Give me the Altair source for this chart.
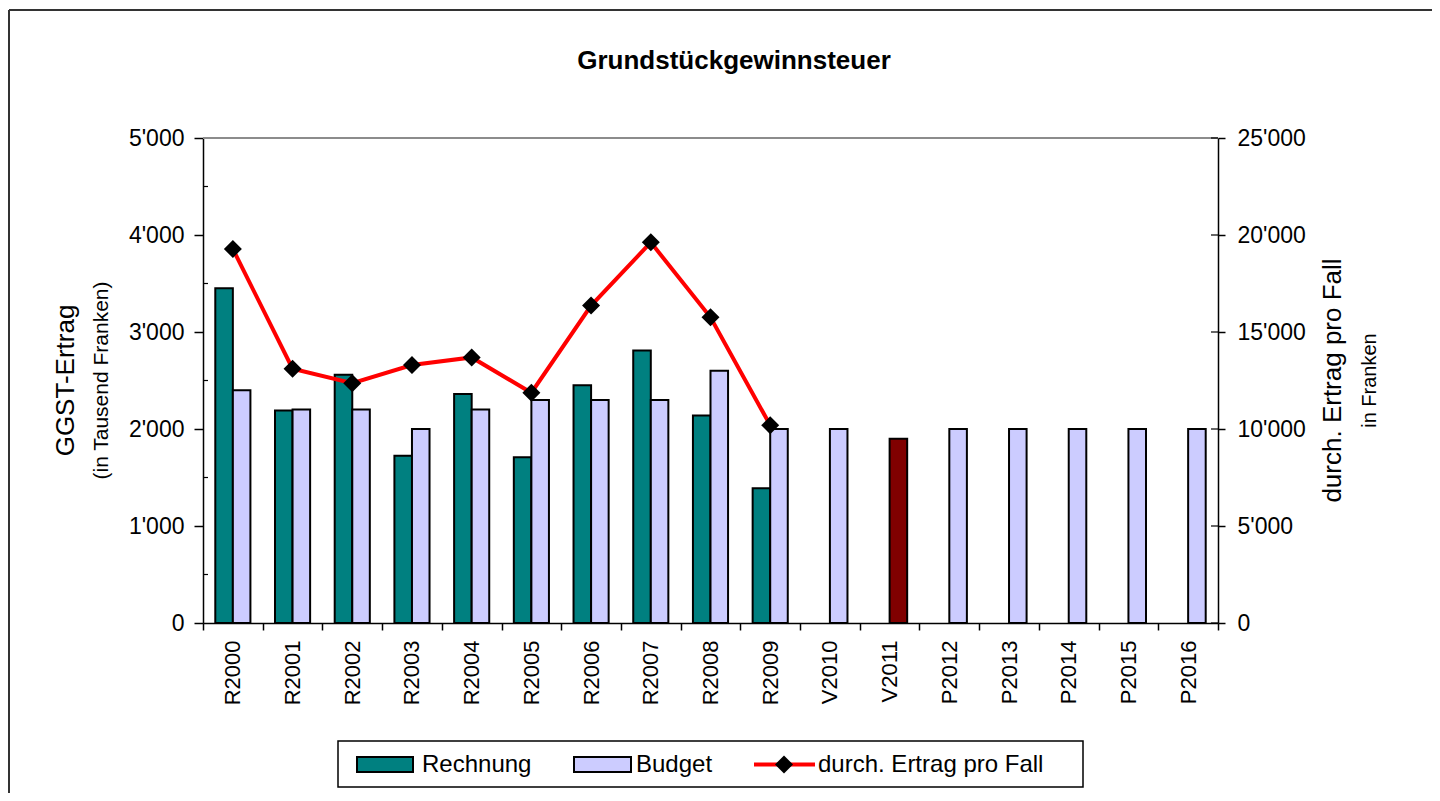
import altair as alt
import pandas as pd

# ---------------- data ----------------
categories = ["R2000", "R2001", "R2002", "R2003", "R2004", "R2005", "R2006",
              "R2007", "R2008", "R2009", "V2010", "V2011", "P2012", "P2013",
              "P2014", "P2015", "P2016"]
rechnung = [3450, 2190, 2560, 1725, 2360, 1710, 2450, 2810, 2140, 1390,
            None, None, None, None, None, None, None]
budget = [2400, 2200, 2200, 2000, 2200, 2300, 2300, 2300, 2600, 2000,
          2000, 1900, 2000, 2000, 2000, 2000, 2000]
ertrag_pro_fall = [19280, 13110, 12360, 13300, 13690, 11870, 16360, 19620,
                   15760, 10190]
hervorgehoben = ["V2011"]

left_ticks = [0, 1000, 2000, 3000, 4000, 5000]
left_minor = [500, 1500, 2500, 3500, 4500]
right_ticks = [0, 5000, 10000, 15000, 20000, 25000]

rows = []
for c, r, b in zip(categories, rechnung, budget):
    if r is not None:
        rows.append({"Jahr": c, "Serie": "Rechnung", "Wert": r, "Farbe": "Rechnung"})
    if b is not None:
        rows.append({"Jahr": c, "Serie": "Budget", "Wert": b,
                     "Farbe": "Hervorgehoben" if c in hervorgehoben else "Budget"})
bars_df = pd.DataFrame(rows)
line_df = pd.DataFrame({"Jahr": categories[:len(ertrag_pro_fall)],
                        "Ertrag": ertrag_pro_fall})
minor_df = pd.DataFrame({"v": left_minor})
rtick_df = pd.DataFrame({"v": right_ticks})
one = pd.DataFrame({"a": [0]})

FONT = "Liberation Sans"
W, H = 1015, 485
PAD = {"left": 195, "top": 130, "right": 214, "bottom": 170}

TEAL, LAV, DRED, RED = "#008080", "#CCCCFF", "#800000", "#FF0000"

fmt = "replace(format(datum.value, ','), ',', \"'\")"

x_scale = alt.Scale(domain=categories, paddingInner=0, paddingOuter=0)
x_axis = alt.Axis(title=None, labelAngle=270, labelFontSize=22, labelPadding=10,
                  tickBand="extent", tickSize=7, labelFont=FONT)
yl_scale = alt.Scale(domain=[0, 5000], nice=False)
yr_scale = alt.Scale(domain=[0, 25000], nice=False)
yl_axis = alt.Axis(title=None, values=left_ticks, labelExpr=fmt, tickSize=9,
                   labelPadding=10, orient="left")
yr_axis = alt.Axis(title=None, values=right_ticks, labelExpr=fmt, tickSize=7,
                   labelPadding=12, orient="right")

bars = alt.Chart(bars_df).mark_bar(stroke="black", strokeWidth=2).encode(
    x=alt.X("Jahr:N", scale=x_scale, axis=x_axis),
    xOffset=alt.XOffset("Serie:N", scale=alt.Scale(domain=["Rechnung", "Budget"],
                                                  paddingInner=0, paddingOuter=0.7)),
    y=alt.Y("Wert:Q", scale=yl_scale, axis=yl_axis),
    color=alt.Color("Farbe:N", scale=alt.Scale(domain=["Rechnung", "Budget", "Hervorgehoben"],
                                               range=[TEAL, LAV, DRED]), legend=None),
)

top_rule = alt.Chart(one).mark_rule(color="#8c8c8c", strokeWidth=2).encode(
    y=alt.YDatum(5000, scale=yl_scale, axis=yl_axis)
)
minor = alt.Chart(minor_df).mark_rule(color="black", strokeWidth=1.2).encode(
    y=alt.Y("v:Q", scale=yl_scale, axis=yl_axis), x=alt.value(0), x2=alt.value(5)
)

def txt(text, x, y, size, angle=0, weight="normal", align="center", baseline="alphabetic"):
    return alt.Chart(one).mark_text(
        text=text, font=FONT, fontSize=size, fontWeight=weight, angle=angle,
        align=align, baseline=baseline, color="black"
    ).encode(x=alt.value(x), y=alt.value(y))

frame_l = alt.Chart(one).mark_rule(color="#333333", strokeWidth=2).encode(
    x=alt.value(-194), y=alt.value(-128), y2=alt.value(H + PAD["bottom"]))
frame_t = alt.Chart(one).mark_rule(color="#333333", strokeWidth=2).encode(
    x=alt.value(-194), x2=alt.value(W + PAD["right"]), y=alt.value(-128))

title = txt("Grundstückgewinnsteuer", 531, -69, 26, weight="bold")
yl_t1 = txt("GGST-Ertrag", -129, H / 2, 26, angle=270)
yl_t2 = txt("(in Tausend Franken)", -95, H / 2, 21, angle=270)
yr_t1 = txt("durch. Ertrag pro Fall", 1138, H / 2, 26, angle=270)
yr_t2 = txt("in Franken", 1173, H / 2, 20, angle=270)

# legend
leg_box = alt.Chart(one).mark_rect(fill="white", stroke="black", strokeWidth=1.5).encode(
    x=alt.value(135), x2=alt.value(880), y=alt.value(603), y2=alt.value(649))
sw1 = alt.Chart(one).mark_rect(fill=TEAL, stroke="black", strokeWidth=2).encode(
    x=alt.value(154), x2=alt.value(210), y=alt.value(619), y2=alt.value(634))
sw2 = alt.Chart(one).mark_rect(fill=LAV, stroke="black", strokeWidth=2).encode(
    x=alt.value(371), x2=alt.value(428), y=alt.value(619), y2=alt.value(634))
lg_line = alt.Chart(one).mark_rule(color=RED, strokeWidth=4).encode(
    x=alt.value(551), x2=alt.value(612), y=alt.value(626.5))
lg_pt = alt.Chart(one).mark_point(shape="diamond", filled=True, size=324, color="black",
                                  opacity=1).encode(x=alt.value(581), y=alt.value(626.5))
lt1 = txt("Rechnung", 219, 627, 24, align="left", baseline="middle")
lt2 = txt("Budget", 433, 627, 24, align="left", baseline="middle")
lt3 = txt("durch. Ertrag pro Fall", 615, 627, 24, align="left", baseline="middle")

left = alt.layer(frame_l, frame_t, top_rule, bars, minor, title, yl_t1, yl_t2, yr_t1, yr_t2,
                 leg_box, sw1, sw2, lg_line, lg_pt, lt1, lt2, lt3)

line = alt.Chart(line_df).mark_line(color=RED, strokeWidth=4).encode(
    x=alt.X("Jahr:N", scale=x_scale, axis=x_axis),
    y=alt.Y("Ertrag:Q", scale=yr_scale, axis=yr_axis),
)
pts = alt.Chart(line_df).mark_point(shape="diamond", filled=True, size=324,
                                    color="black", opacity=1).encode(
    x=alt.X("Jahr:N", scale=x_scale, axis=x_axis),
    y=alt.Y("Ertrag:Q", scale=yr_scale, axis=yr_axis),
)
rticks = alt.Chart(rtick_df).mark_rule(color="black", strokeWidth=1.2).encode(
    y=alt.Y("v:Q", scale=yr_scale, axis=yr_axis), x=alt.value(W - 7), x2=alt.value(W)
)
right = alt.layer(rticks, line, pts)

chart = alt.layer(left, right).resolve_scale(y="independent").properties(
    width=W, height=H, padding=PAD, autosize=alt.AutoSizeParams(type="none"),
    background="white",
).configure_view(stroke=None).configure_axis(
    labelFont=FONT, labelFontSize=23, labelColor="black", domainColor="black",
    tickColor="black", domainWidth=1.5, tickWidth=1.5, grid=False,
)

chart.save("out.html", embed_options={"renderer": "svg", "actions": False})
